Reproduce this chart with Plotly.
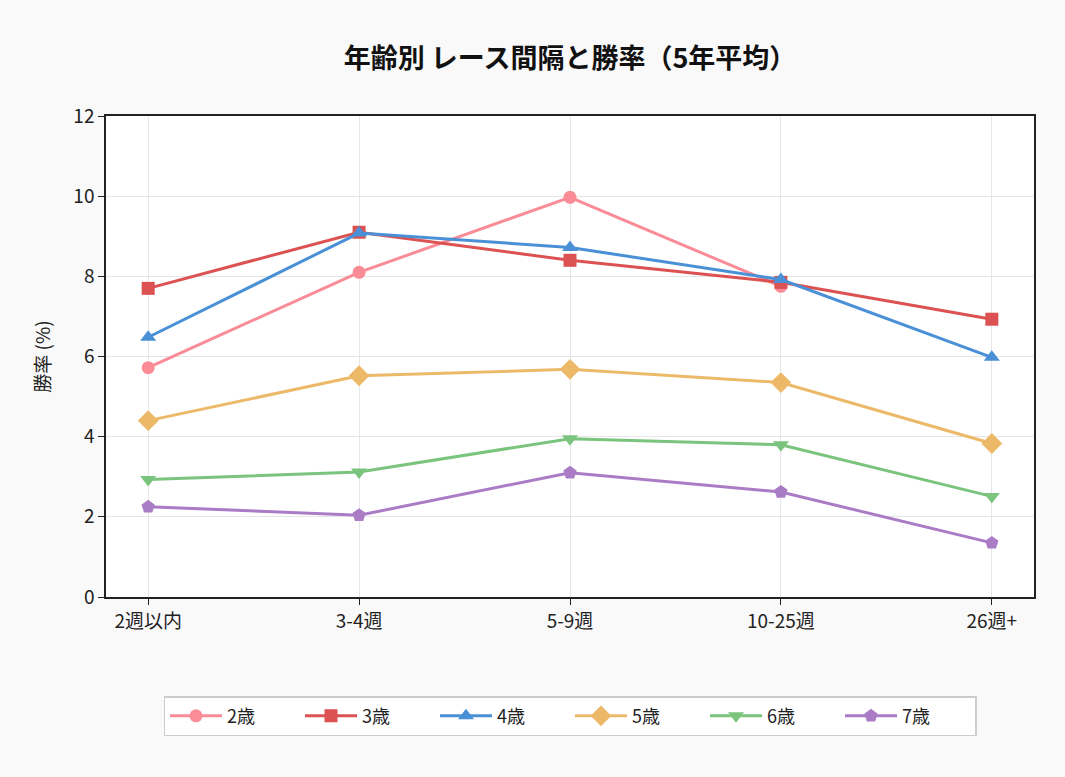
import plotly.graph_objects as go

categories = ["2週以内", "3-4週", "5-9週", "10-25週", "26週+"]
age_labels = ["2歳", "3歳", "4歳", "5歳", "6歳", "7歳"]
v2 = [5.72, 8.10, 9.97, 7.75, None]
v3 = [7.70, 9.10, 8.40, 7.85, 6.93]
v4 = [6.48, 9.08, 8.72, 7.92, 5.98]
v5 = [4.40, 5.52, 5.68, 5.35, 3.83]
v6 = [2.93, 3.12, 3.95, 3.80, 2.51]
v7 = [2.25, 2.04, 3.10, 2.62, 1.35]
series = [v2, v3, v4, v5, v6, v7]

colors = ["#f98c96", "#dc5252", "#4a90d6", "#ecb969", "#7bc47d", "#ab7cc6"]
symbols = ["circle", "square", "triangle-up", "diamond", "triangle-down", "pentagon"]
sizes = [13, 13, 14, 16, 14, 14]

FONT = "Noto Sans CJK JP"

fig = go.Figure()
for name, vals, c, s, sz in zip(age_labels, series, colors, symbols, sizes):
    fig.add_trace(go.Scatter(
        x=list(range(len(categories))), y=vals, name=name, mode="lines+markers",
        line=dict(color=c, width=3),
        marker=dict(symbol=s, size=sz, color=c),
    ))

fig.update_layout(
    width=1065, height=777,
    paper_bgcolor="#f9f9f9", plot_bgcolor="white",
    font=dict(family=FONT, size=18, color="#222"),
    title=dict(text="<b>年齢別 レース間隔と勝率（5年平均）</b>", x=0.5, xref="paper",
               xanchor="center", y=0.925, yanchor="middle",
               font=dict(size=27, color="#111")),
    margin=dict(l=106, r=31, t=116, b=180),
    showlegend=True,
    legend=dict(orientation="h", x=0.5, xanchor="center", y=-0.206, yanchor="top",
                bgcolor="white", bordercolor="#cccccc", borderwidth=1.5,
                font=dict(size=18), itemwidth=52, entrywidth=68, entrywidthmode="pixels",
                tracegroupgap=0),
)
fig.update_xaxes(
    tickmode="array", tickvals=list(range(len(categories))), ticktext=categories,
    range=[-0.2, 4.2], showgrid=True, gridcolor="#e6e6e6", gridwidth=1,
    showline=True, linecolor="#222", linewidth=1.5, mirror=True,
    ticks="outside", ticklen=6, tickcolor="#222", zeroline=False,
    tickfont=dict(size=19),
)
fig.update_yaxes(
    range=[0, 12], dtick=2, showgrid=True, gridcolor="#e6e6e6", gridwidth=1,
    showline=True, linecolor="#222", linewidth=1.5, mirror=True,
    ticks="outside", ticklen=6, tickcolor="#222", zeroline=False,
    tickfont=dict(size=19),
    title=dict(text="勝率 (%)", font=dict(size=19), standoff=18),
)

fig.write_html(
    "out.html",
    config={"displayModeBar": False},
    post_script="document.body.style.margin='0';document.body.style.background='#f9f9f9';",
)
